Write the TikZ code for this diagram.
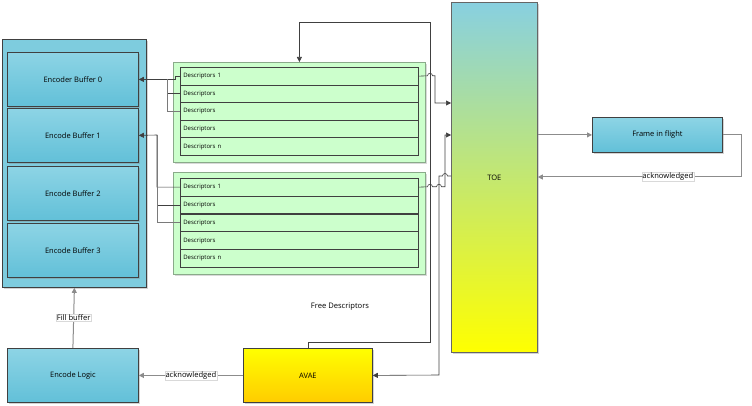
\documentclass[tikz,border=0pt]{standalone}
\usepackage{fontspec}
\setmainfont{Open Sans}
\usetikzlibrary{arrows.meta,shadows,calc}
\definecolor{lineDark}{HTML}{404040}
\definecolor{lineGray}{HTML}{8C8C8C}
\definecolor{lineLight}{HTML}{7A7A7A}
\definecolor{greenFill}{HTML}{CCFFCC}
\definecolor{greenEdge}{HTML}{8AAA8A}
\definecolor{blueTop}{HTML}{8DD4E5}
\definecolor{blueBot}{HTML}{62C0D8}
\definecolor{contFill}{HTML}{7ECCDE}
\begin{document}
\begin{tikzpicture}[x=1pt,y=-1pt,
  box/.style={draw=lineDark, line width=0.8pt, inner sep=0pt, anchor=north west,
    font=\fontsize{7.5}{9}\selectfont},
  bluebox/.style={box, top color=blueTop, bottom color=blueBot,
    drop shadow={shadow xshift=1.2pt, shadow yshift=-1.2pt, opacity=0.35}},
  greenbox/.style={draw=greenEdge, line width=0.8pt, fill=greenFill, inner sep=0pt, anchor=north west,
    drop shadow={shadow xshift=1.5pt, shadow yshift=-1.5pt, opacity=0.3}},
  rowbox/.style={draw=lineDark, line width=0.7pt, fill=greenFill, inner xsep=3pt, inner ysep=0pt,
    anchor=north west, minimum height=17.6pt, text width=232pt, align=left,
    font=\fontsize{6}{7}\selectfont},
  conn/.style={draw=lineDark, line width=0.6pt},
  connL/.style={draw=lineLight, line width=0.6pt},
  connG/.style={draw=lineGray, line width=1pt},
  arr/.style={-{Triangle[length=5pt,width=5pt]}},
  lbl/.style={fill=white, draw=black!15, line width=0.3pt, inner sep=0.8pt,
    font=\fontsize{7.6}{9}\selectfont},
  txt/.style={font=\fontsize{7.6}{9}\selectfont}
]
\useasboundingbox (0,0) rectangle (752,406);

% left container and buffers
\node[box, fill=contFill, minimum width=144pt, minimum height=248pt,
  drop shadow={shadow xshift=1.2pt, shadow yshift=-1.2pt, opacity=0.35}] (cont) at (2,39) {};
\node[bluebox, minimum width=131pt, minimum height=54pt] (buf0) at (7,52) {Encoder Buffer 0};
\node[bluebox, minimum width=131pt, minimum height=54pt] (buf1) at (7,108) {Encode Buffer 1};
\node[bluebox, minimum width=131pt, minimum height=54pt] (buf2) at (7,166) {Encode Buffer 2};
\node[bluebox, minimum width=131pt, minimum height=54pt] (buf3) at (7,223) {Encode Buffer 3};

\node[bluebox, minimum width=131pt, minimum height=54pt] (enc) at (7,348) {Encode Logic};
\node[box, top color=yellow, bottom color={rgb,255:red,255;green,204;blue,0},
  minimum width=129pt, minimum height=54pt,
  drop shadow={shadow xshift=1.2pt, shadow yshift=-1.2pt, opacity=0.35}] (avae) at (243,348) {AVAE};

\node[box, draw=black!60, top color={rgb,255:red,136;green,208;blue,224},
  middle color={rgb,255:red,196;green,230;blue,100}, bottom color=yellow,
  minimum width=86pt, minimum height=350pt,
  drop shadow={shadow xshift=1.2pt, shadow yshift=-1.2pt, opacity=0.35}] (toe) at (451,2) {TOE};

\node[bluebox, minimum width=130pt, minimum height=35pt] (frame) at (592,117) {Frame in flight};

% descriptor groups
\node[greenbox, minimum width=252pt, minimum height=100pt] (g1) at (173,62) {};
\node[greenbox, minimum width=252pt, minimum height=102pt] (g2) at (173,172) {};
\foreach \i/\t in {1/Descriptors 1,2/Descriptors,3/Descriptors,4/Descriptors,5/Descriptors n}{
  \node[rowbox] (g1r\i) at (180,{67+(\i-1)*17.6}) {\t};
  \node[rowbox] (g2r\i) at (180,{178+(\i-1)*17.8}) {\t};
}

% junction coordinates
\coordinate (j0) at (167,79);
\coordinate (j1) at (157,135);

% left connectors
\draw[conn, arr] (g1r1.west) -- ++(-5,0) |- (buf0.east);
\draw[conn] (g1r2.west) -| (j0);
\draw[connL] (g1r3.west) -| (j0);
\draw[conn, arr] (g2r1.west) -| (j1) -- (buf1.east);
\draw[conn] (g2r2.west) -| (j1);
\draw[connL] (g2r3.west) -| (j1);

% free descriptors loop
\coordinate (f1) at (430,342);
\coordinate (f2) at (430,22);
\draw[conn, arr] (avae.north) |- (f1) -- (f2) -| (g1.north);
\node[txt] (freelbl) at (340,307) {Free Descriptors};

% descriptors to TOE
\coordinate (t1) at (451,103);
\coordinate (t2) at (451,135);
\coordinate (t3) at (451,176);
\draw[conn, arr] (g1r1.east) -- (427.5,75.8) arc[start angle=180, end angle=0, radius=2.5pt]
  -- (435,75.8) |- (t1);
\draw[conn, arr] (g2r1.east) -- (427.5,186.8) arc[start angle=180, end angle=0, radius=2.5pt]
  -- (436.5,186.8) arc[start angle=180, end angle=0, radius=2.5pt]
  -- (445,186.8) |- (t2);
% TOE to AVAE
\coordinate (a2) at (439,375);
\draw[conn, arr] (t3) -- (447.5,176) arc[start angle=0, end angle=180, radius=2.5pt]
  -- (439,176) -- (a2) -- (avae.east);

% AVAE to Encode Logic
\draw[connG, arr] (avae.west) -- node[lbl]{acknowledged} (enc.east);
% Encode logic to container
\draw[connG, arr] (enc.north) -- node[lbl]{Fill buffer} (cont.south);

% TOE and frame in flight
\draw[connG, arr] (toe.east |- frame.west) -- (frame.west);
\coordinate (a1) at (741,177);
\draw[connG, arr] (frame.east) -| (a1) -- node[lbl, pos=0.36]{acknowledged} (toe.east |- a1);
\end{tikzpicture}
\end{document}
